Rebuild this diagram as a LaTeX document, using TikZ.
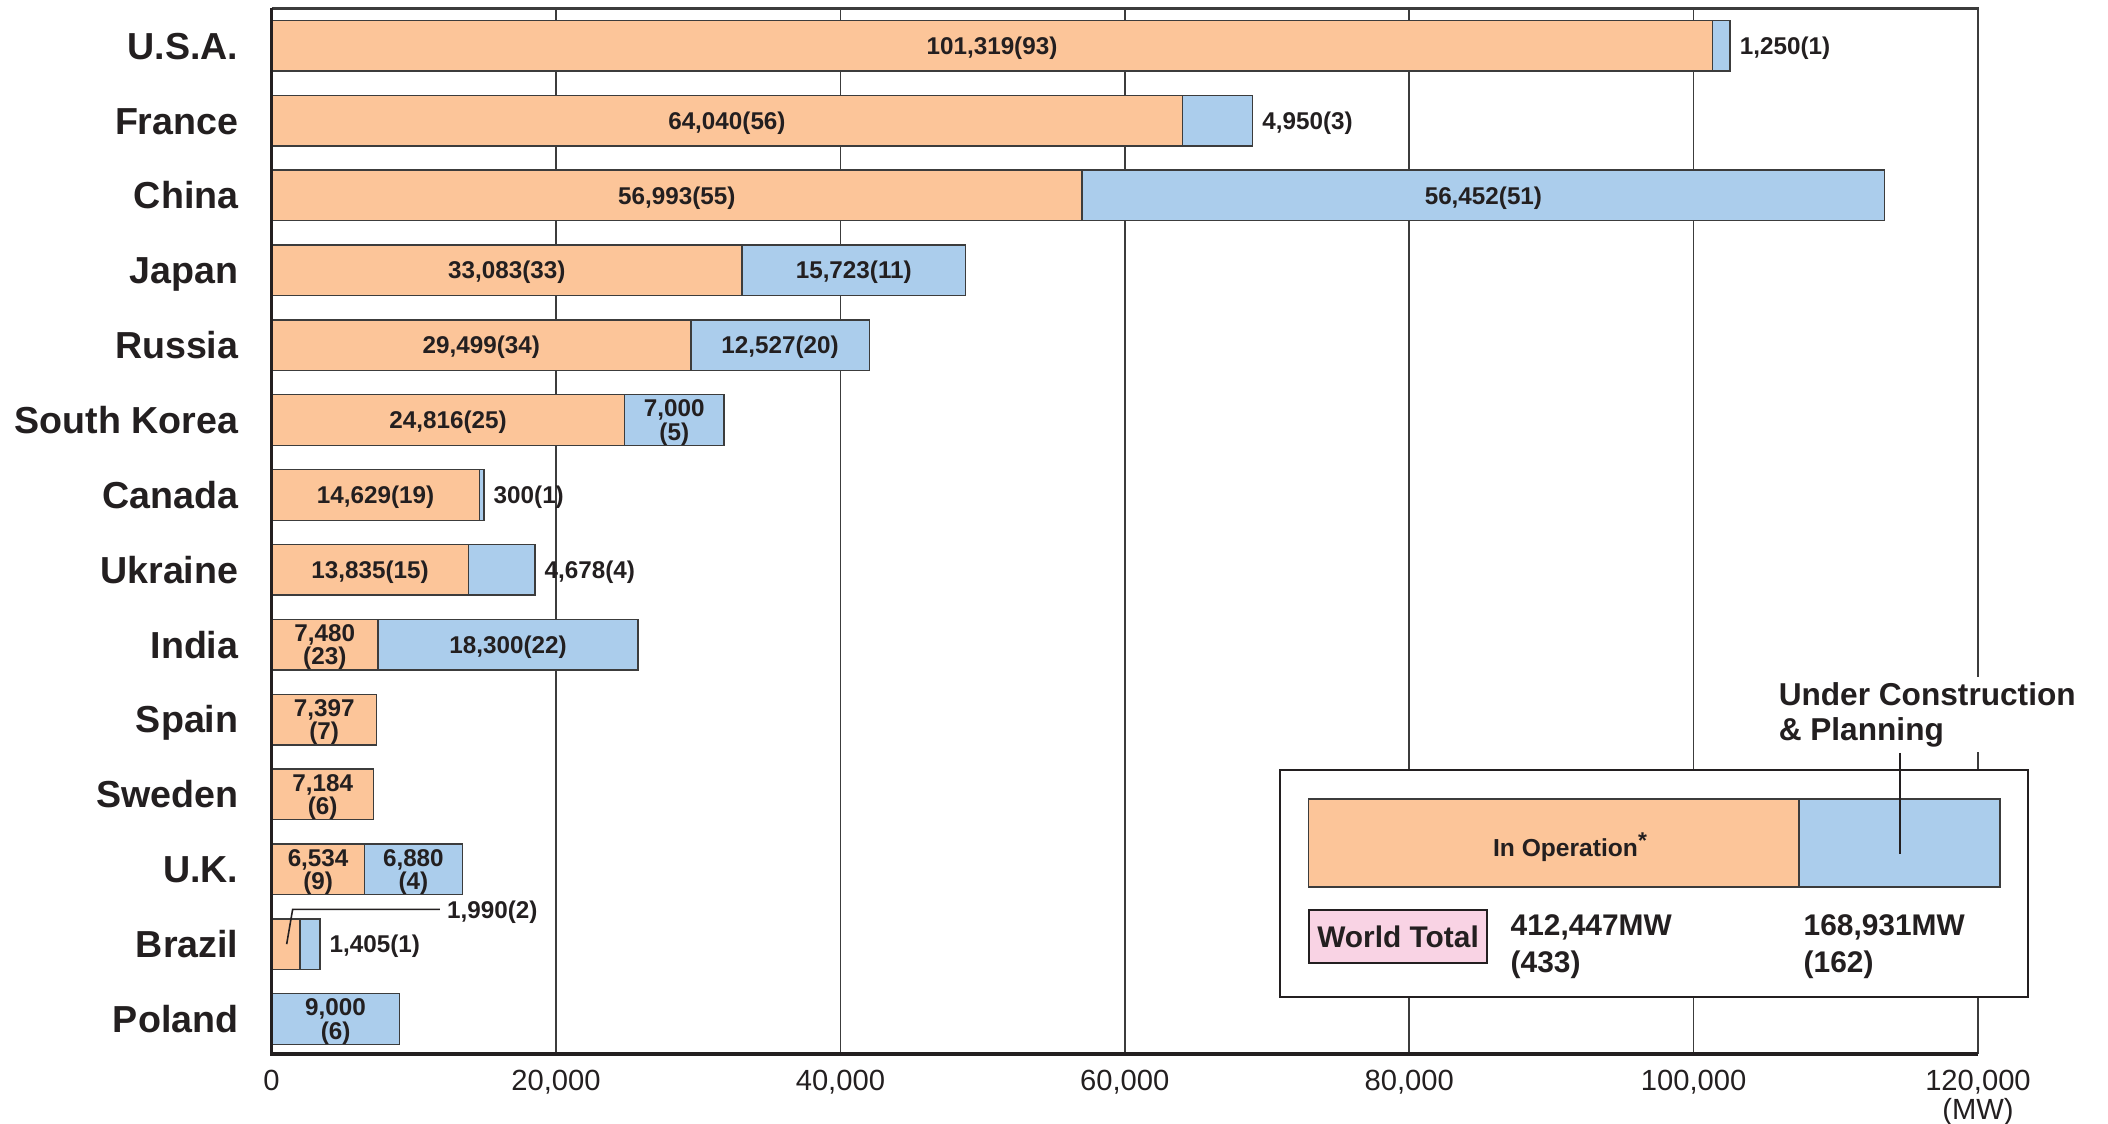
\documentclass[tikz,border=0pt]{standalone}
\usepackage{fontspec}
\setmainfont{Liberation Sans}

\definecolor{naranja}{HTML}{FCC599}
\definecolor{celeste}{HTML}{ABCDEC}
\definecolor{rosa}{HTML}{F9D3E4}
\definecolor{tinta}{HTML}{231F20}
\definecolor{gris}{HTML}{3C3C3C}

\tikzset{
  pais/.style={anchor=east, inner sep=0pt, text=tinta, font=\bfseries\fontsize{10.7}{12}\selectfont, text height=7.66pt, text depth=0pt},
  etiq/.style={inner sep=0pt, text=tinta, font=\bfseries\fontsize{6.9}{6.6}\selectfont, text height=4.94pt, text depth=0pt},
  etiqdos/.style={inner sep=0pt, text=tinta, font=\bfseries\fontsize{6.9}{6.6}\selectfont, align=center, yshift=-0.7pt},
  opbar/.style={draw=gris, line width=0.4pt, fill=naranja},
  ucbar/.style={draw=gris, line width=0.4pt, fill=celeste},
  rejilla/.style={draw=gris, line width=0.4pt},
  guia/.style={draw=tinta, line width=0.45pt},
  marca/.style={inner sep=0pt, text=tinta, font=\fontsize{8.3}{9.5}\selectfont, text height=5.94pt, text depth=0pt},
  leyenda/.style={inner sep=0pt, text=tinta, font=\bfseries\fontsize{8.5}{10.5}\selectfont, align=left},
}

\begin{document}
\begin{tikzpicture}
  % Marco de la imagen
  \useasboundingbox (0,0) rectangle (21.08,-11.24);

  \begin{scope}[shift={(2.716,-0.457)}, x=0.1422cm, y=-0.7487cm]
    % Lineas de la rejilla
    \foreach \x in {20,40,...,100} {
        \draw[rejilla] (\x,-0.497) -- (\x,13.467);
      }

    % Barras en operacion
    \foreach \i/\op in {0/101.319, 1/64.040, 2/56.993, 3/33.083, 4/29.499, 5/24.816, 6/14.629, 7/13.835, 8/7.480, 9/7.397, 10/7.184, 11/6.534, 12/1.990} {
        \draw[opbar] (0,\i-0.338) rectangle (\op,\i+0.338);
      }

    % Barras en construccion y planificacion
    \foreach \i/\a/\b in {0/101.319/102.569, 1/64.040/68.990, 2/56.993/113.445, 3/33.083/48.806, 4/29.499/42.026, 5/24.816/31.816, 6/14.629/14.929, 7/13.835/18.513, 8/7.480/25.780, 11/6.534/13.414, 12/1.990/3.395, 13/0/9.000} {
        \draw[ucbar] (\a,\i-0.338) rectangle (\b,\i+0.338);
      }

    % Ejes
    \draw[gris, line width=0.6pt] (0,-0.497) -- (120,-0.497) -- (120,13.467);
    \draw[tinta, line width=0.9pt] (0,-0.497) -- (0,13.467) -- (120,13.467);

    % Nombres de los paises
    \foreach \i/\nombre in {0/U.S.A., 1/France, 2/China, 3/Japan, 4/Russia, 5/South Korea, 6/Canada, 7/Ukraine, 8/India, 9/Spain, 10/Sweden, 11/U.K., 12/Brazil, 13/Poland} {
        \node[pais] (pais\i) at (-2.29,\i) {\nombre};
      }

    % Valores de las barras
    \node[etiq] (op0) at (50.66,0) {101,319(93)};
    \node[etiq, anchor=west, xshift=2.6pt] (uc0) at (102.569,0) {1,250(1)};
    \node[etiq] (op1) at (32.02,1) {64,040(56)};
    \node[etiq, anchor=west, xshift=2.6pt] (uc1) at (68.99,1) {4,950(3)};
    \node[etiq] (op2) at (28.50,2) {56,993(55)};
    \node[etiq] (uc2) at (85.22,2) {56,452(51)};
    \node[etiq] (op3) at (16.54,3) {33,083(33)};
    \node[etiq] (uc3) at (40.94,3) {15,723(11)};
    \node[etiq] (op4) at (14.75,4) {29,499(34)};
    \node[etiq] (uc4) at (35.76,4) {12,527(20)};
    \node[etiq] (op5) at (12.41,5) {24,816(25)};
    \node[etiqdos] (uc5) at (28.32,5) {7,000\\(5)};
    \node[etiq] (op6) at (7.31,6) {14,629(19)};
    \node[etiq, anchor=west, xshift=2.6pt] (uc6) at (14.929,6) {300(1)};
    \node[etiq] (op7) at (6.92,7) {13,835(15)};
    \node[etiq, anchor=west, xshift=2.6pt] (uc7) at (18.513,7) {4,678(4)};
    \node[etiqdos] (op8) at (3.74,8) {7,480\\(23)};
    \node[etiq] (uc8) at (16.63,8) {18,300(22)};
    \node[etiqdos] (op9) at (3.70,9) {7,397\\(7)};
    \node[etiqdos] (op10) at (3.59,10) {7,184\\(6)};
    \node[etiqdos] (op11) at (3.27,11) {6,534\\(9)};
    \node[etiqdos] (uc11) at (9.97,11) {6,880\\(4)};
    \node[etiq, anchor=west, xshift=2.6pt] (uc12) at (3.395,12) {1,405(1)};
    \node[etiqdos] (uc13) at (4.5,13) {9,000\\(6)};

    % Llamada de Brasil
    \coordinate (brasilpt) at (1.06,12);
    \coordinate (codo) at (1.48,11.535);
    \node[etiq, anchor=west] (op12) at (12.3,11.535) {1,990(2)};
    \draw[guia] (brasilpt) -- (codo) -- ([xshift=-1.9pt]codo -| op12.west);

    % Marcas del eje x
    \foreach \x/\t in {0/0, 20/{20,000}, 40/{40,000}, 60/{60,000}, 80/{80,000}, 100/{100,000}, 120/{120,000}} {
        \node[marca] (tick\x) at (\x,13.815) {\t};
      }
    \node[marca] (unidad) at (120,14.209) {(MW)};
  \end{scope}

  % Leyenda
  \draw[tinta, line width=0.6pt, fill=white] (12.80,-7.70) rectangle (20.28,-9.97);
  \draw[opbar] (13.086,-7.99) rectangle (17.99,-8.87);
  \draw[ucbar] (17.99,-7.99) rectangle (20.00,-8.87);
  \node[etiq, font=\bfseries\fontsize{7}{8}\selectfont] (enop) at (15.70,-8.48) {In Operation\raisebox{2.2pt}{\fontsize{6.5}{7}\selectfont *}};

  \node[leyenda, anchor=south west, fill=white, inner xsep=1pt, inner ysep=1.5pt, font=\bfseries\fontsize{9}{9.9}\selectfont] (enconst) at (17.745,-7.53) {Under Construction\\\& Planning};
  \coordinate (punta) at (19.00,-8.54);
  \draw[guia] (enconst.south -| punta) -- (punta);

  % Totales mundiales
  \node[draw=tinta, line width=0.5pt, fill=rosa, minimum width=1.78cm, minimum height=0.53cm, inner sep=0pt, text=tinta, font=\bfseries\fontsize{8.5}{10}\selectfont, text height=6.1pt, text depth=0pt] (mundo) at (13.98,-9.365) {World Total};
  \node[leyenda, anchor=north west] (totop) at (15.10,-9.143) {412,447MW\\(433)};
  \node[leyenda, anchor=north west] (totuc) at (18.03,-9.143) {168,931MW\\(162)};
\end{tikzpicture}
\end{document}
